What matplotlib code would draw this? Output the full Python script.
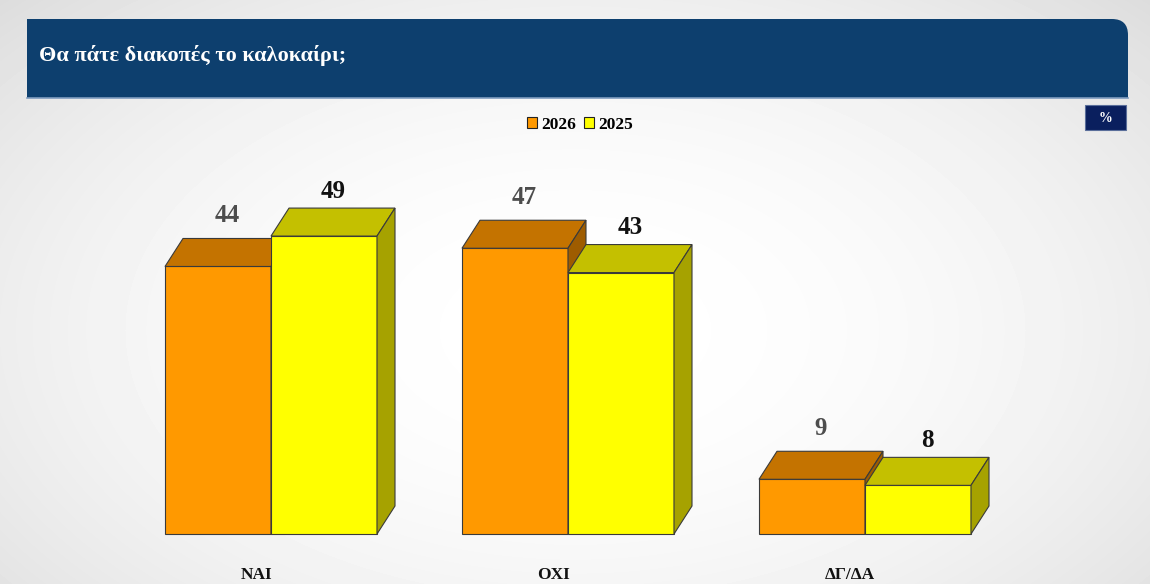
import numpy as np
import matplotlib
matplotlib.use('Agg')
import matplotlib.pyplot as plt
from matplotlib.patches import Polygon, Rectangle, Patch
from matplotlib.path import Path
from matplotlib.patches import PathPatch

# data
categories = ['ΝΑΙ', 'ΟΧΙ', 'ΔΓ/ΔΑ']
series_names = ['2026', '2025']
values_2026 = [44, 47, 9]
values_2025 = [49, 43, 8]
title = 'Θα πάτε διακοπές το καλοκαίρι;'

# colours: front, top, side
colors = {
    '2026': ('#FF9900', '#C47300', '#9E5C00'),
    '2025': ('#FFFF00', '#C4C000', '#A6A200'),
}
label_colors = {'2026': '#4D4D4D', '2025': '#111111'}

W, H = 1150, 584
fig = plt.figure(figsize=(W / 100, H / 100), dpi=100)

# background / decoration in pixel coords
bg = fig.add_axes([0, 0, 1, 1], zorder=0)
bg.set_xlim(0, W)
bg.set_ylim(H, 0)
bg.axis('off')
yy, xx = np.mgrid[0:H, 0:W]
r = np.sqrt(((xx - 575) / 720.0) ** 2 + ((yy - 330) / 430.0) ** 2)
grad = 1 - 0.11 * np.clip(r, 0, 1.3) ** 2
bg.imshow(grad, cmap='gray', vmin=0, vmax=1, extent=(0, W, H, 0), aspect='auto')

# banner with rounded top-right corner
x0, x1, y0, y1, rad = 27, 1128, 19, 98, 16
verts = [(x0, y1), (x0, y0), (x1 - rad, y0), (x1, y0), (x1, y0 + rad), (x1, y1), (x0, y1)]
codes = [Path.MOVETO, Path.LINETO, Path.LINETO, Path.CURVE3, Path.CURVE3, Path.LINETO, Path.CLOSEPOLY]
bg.add_patch(PathPatch(Path(verts, codes), facecolor='#0D3F6E', edgecolor='none'))
bg.plot([x0, x1], [y1, y1], color='#7F9CBF', lw=1.2)
bg.text(39, 56, title, color='white', fontsize=16, fontweight='bold',
        family='Liberation Serif', va='center', ha='left')

bg.add_patch(Rectangle((1085, 105), 41, 25, facecolor='#0A1F5E', edgecolor='#5A6E9A', lw=0.8))
bg.text(1105.5, 118, '%', color='white', fontsize=10, fontweight='bold',
        family='Liberation Serif', va='center', ha='center')

# chart axes
ax = fig.add_axes([0, 0, 1, 1], zorder=1)
ax.patch.set_alpha(0)
ax.axis('off')
px_unit = 6.08
ax.set_xlim(-271 / 297, (W - 271) / 297)
ax.set_ylim(-50 / px_unit, (H - 50) / px_unit)

bw = 106 / 297
ddx = 18 / 297
ddy = 28 / px_unit
edge = '#3A3A3A'


def bar3d(xl, h, cols):
    front, top, side = cols
    xr = xl + bw
    ax.add_patch(Polygon([(xl, 0), (xr, 0), (xr, h), (xl, h)], closed=True,
                         facecolor=front, edgecolor=edge, lw=0.8))
    ax.add_patch(Polygon([(xl, h), (xr, h), (xr + ddx, h + ddy), (xl + ddx, h + ddy)], closed=True,
                         facecolor=top, edgecolor=edge, lw=0.8))
    ax.add_patch(Polygon([(xr, 0), (xr + ddx, ddy), (xr + ddx, h + ddy), (xr, h)], closed=True,
                         facecolor=side, edgecolor=edge, lw=0.8))


for i, cat in enumerate(categories):
    for j, (name, vals) in enumerate(zip(series_names, [values_2026, values_2025])):
        xl = i - bw + j * bw
        bar3d(xl, vals[i], colors[name])
        off = 3.7 if j == 0 else 2.8
        ax.text(xl + bw / 2 + ddx / 2, vals[i] + ddy + off, str(vals[i]),
                ha='center', va='center', fontsize=18, fontweight='bold',
                family='Liberation Serif', color=label_colors[name])
    ax.text(i - 0.05, -6.75, cat, ha='center', va='center', fontsize=12.5,
            fontweight='bold', family='Liberation Serif', color='#111111')

handles = [Patch(facecolor=colors[n][0], edgecolor='#222222', lw=0.8, label=n) for n in series_names]
fig.legend(handles=handles, loc='center', bbox_to_anchor=(580 / W, 1 - 125 / H), ncol=2,
           frameon=False, handlelength=0.55, handleheight=0.6, handletextpad=0.25,
           columnspacing=0.5, prop={'family': 'Liberation Serif', 'weight': 'bold', 'size': 12.5})

fig.savefig('out.png', dpi=100)
